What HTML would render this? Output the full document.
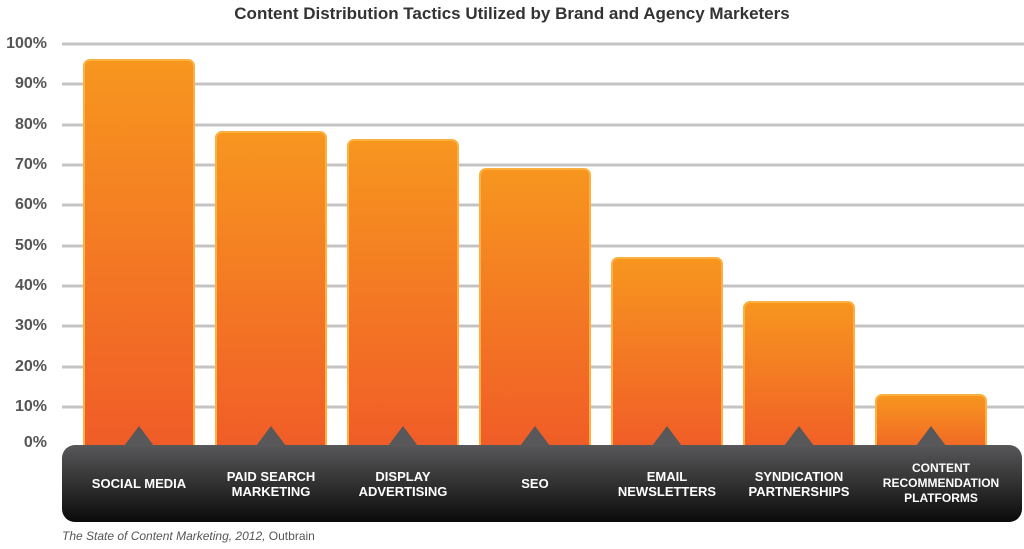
<!DOCTYPE html>
<html><head><style>
body{margin:0;background:#fff;width:1024px;height:544px;overflow:hidden;font-family:"Liberation Sans",sans-serif}
</style></head><body>
<svg width="1024" height="544" xmlns="http://www.w3.org/2000/svg">
<defs>
<linearGradient id="o" x1="0" y1="0" x2="0" y2="1"><stop offset="0" stop-color="#f7961f"/><stop offset="1" stop-color="#f05a28"/></linearGradient>
<linearGradient id="d" x1="0" y1="0" x2="0" y2="1"><stop offset="0" stop-color="#58585a"/><stop offset="1" stop-color="#0a0a0a"/></linearGradient>
</defs>
<text x="512" y="19" text-anchor="middle" font-size="17" font-weight="bold" fill="#333">Content Distribution Tactics Utilized by Brand and Agency Marketers</text>
<g stroke="#c4c4c4" stroke-width="3">
<line x1="62" x2="1024" y1="44" y2="44"/><line x1="62" x2="1024" y1="84" y2="84"/><line x1="62" x2="1024" y1="125" y2="125"/><line x1="62" x2="1024" y1="165" y2="165"/><line x1="62" x2="1024" y1="205" y2="205"/><line x1="62" x2="1024" y1="246" y2="246"/><line x1="62" x2="1024" y1="286" y2="286"/><line x1="62" x2="1024" y1="326" y2="326"/><line x1="62" x2="1024" y1="367" y2="367"/><line x1="62" x2="1024" y1="407" y2="407"/>
</g>
<g font-size="16" fill="#555" text-anchor="end" font-weight="bold">
<text x="47" y="48">100%</text><text x="47" y="88">90%</text><text x="47" y="129">80%</text><text x="47" y="169">70%</text><text x="47" y="209">60%</text><text x="47" y="250">50%</text><text x="47" y="290">40%</text><text x="47" y="330">30%</text><text x="47" y="371">20%</text><text x="47" y="411">10%</text><text x="47" y="447">0%</text>
</g>
<g fill="url(#o)" stroke="#fbb040" stroke-width="2">
<rect x="84" y="60" width="110" height="400" rx="6"/>
<rect x="216" y="132" width="110" height="330" rx="6"/>
<rect x="348" y="140" width="110" height="320" rx="6"/>
<rect x="480" y="169" width="110" height="290" rx="6"/>
<rect x="612" y="258" width="110" height="200" rx="6"/>
<rect x="744" y="302" width="110" height="160" rx="6"/>
<rect x="876" y="395" width="110" height="70" rx="6"/>
</g>
<rect x="62" y="445" width="960" height="77" rx="13" fill="url(#d)"/>
<g fill="#58585a">
<polygon points="124,446 139,426 154,446"/><polygon points="256,446 271,426 286,446"/><polygon points="388,446 403,426 418,446"/><polygon points="520,446 535,426 550,446"/><polygon points="652,446 667,426 682,446"/><polygon points="784,446 799,426 814,446"/><polygon points="916,446 931,426 946,446"/>
</g>
<g fill="#fff" font-size="13" font-weight="bold" text-anchor="middle">
<text x="139" y="488">SOCIAL MEDIA</text>
<text x="271" y="481">PAID SEARCH</text><text x="271" y="496">MARKETING</text>
<text x="403" y="481">DISPLAY</text><text x="403" y="496">ADVERTISING</text>
<text x="535" y="488">SEO</text>
<text x="667" y="481">EMAIL</text><text x="667" y="496">NEWSLETTERS</text>
<text x="799" y="481">SYNDICATION</text><text x="799" y="496">PARTNERSHIPS</text>
<text x="941" y="472" font-size="12">CONTENT</text><text x="941" y="487" font-size="12">RECOMMENDATION</text><text x="941" y="502" font-size="12">PLATFORMS</text>
</g>
<text x="62" y="540" font-size="12" fill="#555"><tspan font-style="italic">The State of Content Marketing, 2012,</tspan> Outbrain</text>
</svg>
</body></html>
